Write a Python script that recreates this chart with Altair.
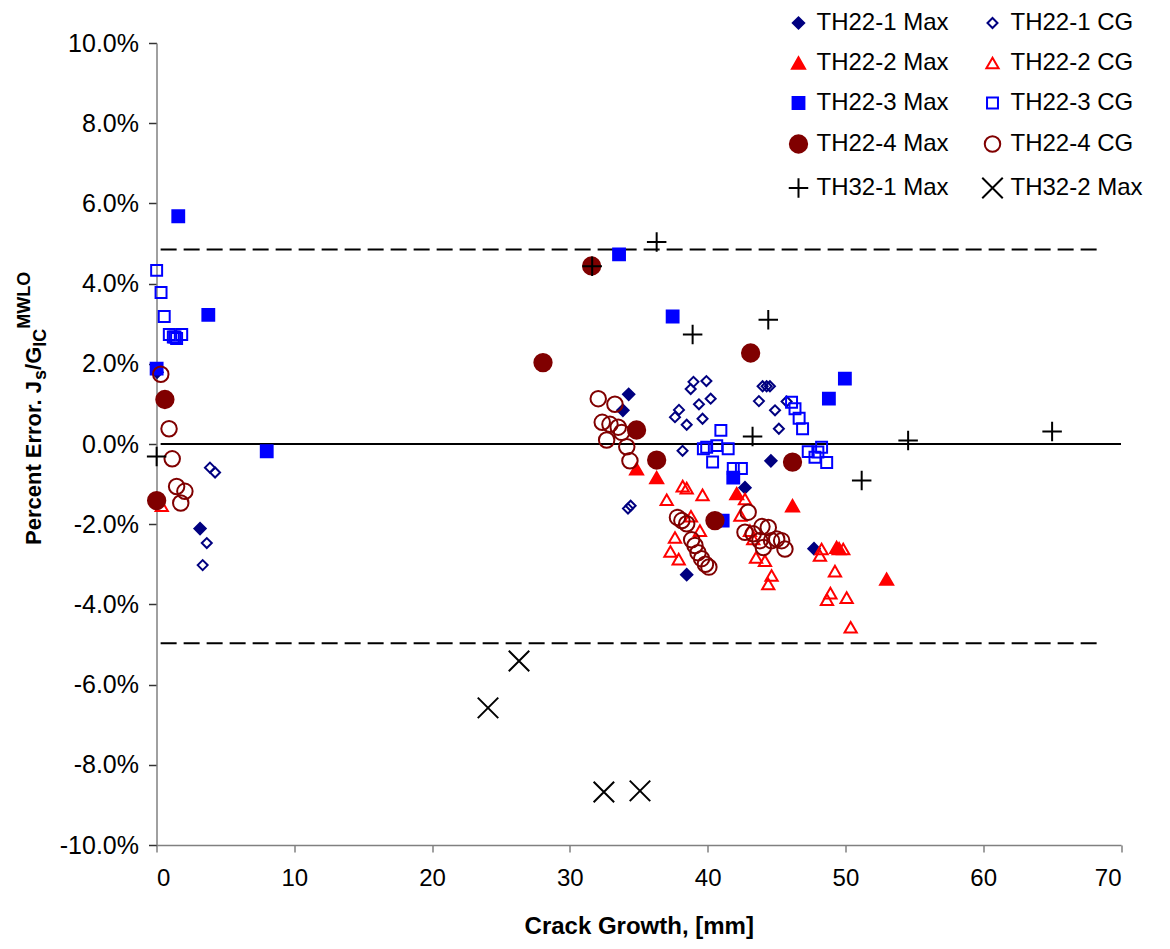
import altair as alt
import pandas as pd

# ---------------- data (crack growth mm, percent error %) ----------------
th221_max_x = [0.04, 3.16, 33.85, 34.27, 38.48, 42.71, 44.59, 47.72]
th221_max_y = [1.79, -2.11, 0.84, 1.24, -3.26, -1.09, -0.42, -2.61]

th221_cg_x = [3.88, 4.25, 3.65, 3.35, 34.22, 34.41, 37.63, 37.92, 38.18, 38.48, 38.77, 38.97,
              39.37, 39.63, 39.91, 40.22, 43.72, 43.99, 44.28, 44.52, 44.89, 45.17, 45.73]
th221_cg_y = [-0.59, -0.71, -2.47, -3.02, -1.61, -1.54, 0.67, 0.85, -0.17, 0.48, 1.37, 1.55,
              0.99, 0.63, 1.57, 1.13, 1.07, 1.44, 1.44, 1.44, 0.84, 0.38, 1.06]

th222_max_x = [34.84, 36.30, 42.11, 46.16, 49.36, 49.54, 52.99]
th222_max_y = [-0.62, -0.84, -1.24, -1.54, -2.58, -2.61, -3.37]

th222_cg_x = [0.38, 37.03, 37.30, 37.63, 37.90, 38.19, 38.48, 38.79, 39.44, 39.63, 42.38, 42.71,
              43.07, 43.31, 43.51, 44.16, 44.64, 44.40, 48.15, 48.27, 49.84, 49.24, 48.91, 48.66,
              50.09, 50.38]
th222_cg_y = [-1.54, -1.39, -2.68, -2.33, -2.87, -1.05, -1.10, -1.80, -2.16, -1.27, -1.78, -1.37,
              -2.16, -2.37, -2.83, -2.91, -3.28, -3.49, -2.78, -2.62, -2.62, -3.17, -3.72, -3.88,
              -3.83, -4.57]

th223_max_x = [0.01, 1.58, 3.76, 8.00, 33.57, 37.46, 41.09, 41.86, 48.80, 49.96]
th223_max_y = [1.88, 5.68, 3.22, -0.18, 4.73, 3.18, -1.91, -0.84, 1.13, 1.63]

th223_cg_x = [0.01, 0.33, 0.56, 0.93, 1.22, 1.46, 1.83, 1.34, 39.69, 39.93, 40.36, 40.66, 40.96,
              41.49, 41.86, 42.45, 46.09, 46.34, 46.64, 46.89, 47.30, 47.79, 48.27, 48.64, 48.00]
th223_cg_y = [4.33, 3.78, 3.18, 2.73, 2.67, 2.63, 2.73, 2.67, -0.12, -0.08, -0.45, -0.04, 0.34,
              -0.12, -0.61, -0.61, 1.04, 0.88, 0.64, 0.38, -0.19, -0.33, -0.08, -0.46, -0.20]

th224_max_x = [0.01, 0.61, 28.05, 31.58, 34.84, 36.30, 40.53, 43.12, 46.16]
th224_max_y = [-1.41, 1.11, 2.03, 4.44, 0.35, -0.40, -1.91, 2.27, -0.45]

th224_cg_x = [0.31, 0.91, 1.14, 1.46, 1.76, 2.06, 32.06, 32.35, 32.67, 32.91, 33.27, 33.51, 33.76,
              34.13, 34.36, 37.81, 38.13, 38.48, 38.84, 39.08, 39.30, 39.56, 39.84, 40.09, 42.94,
              42.71, 43.31, 43.79, 43.94, 44.04, 44.40, 44.64, 45.01, 45.37, 45.61]
th224_cg_y = [1.74, 0.38, -0.37, -1.06, -1.47, -1.18, 1.13, 0.54, 0.10, 0.49, 0.99, 0.42, 0.29,
              -0.07, -0.42, -1.83, -1.91, -1.99, -2.39, -2.53, -2.71, -2.86, -3.00, -3.07, -1.70,
              -2.20, -2.24, -2.41, -2.06, -2.58, -2.08, -2.41, -2.37, -2.41, -2.62]

th321_max_x = [0.01, 31.62, 36.30, 38.91, 43.26, 44.4, 51.18, 54.55, 65.0]
th321_max_y = [-0.31, 4.43, 5.04, 2.73, 0.19, 3.10, -0.91, 0.09, 0.31]

th322_max_x = [24.06, 26.31, 32.47, 35.09]
th322_max_y = [-6.58, -5.41, -8.68, -8.65]

zero_x = [0.3, 70.0]
upper_limit = 4.85
lower_limit = -4.97
limit_x = [0.3, 68.5]

# legend fills column by column: first column = "Max", second column = "CG"
series_order = ["TH22-1 Max", "TH22-2 Max", "TH22-3 Max", "TH22-4 Max", "TH32-1 Max",
                "TH22-1 CG", "TH22-2 CG", "TH22-3 CG", "TH22-4 CG", "TH32-2 Max"]
series_data = {
    "TH22-1 Max": (th221_max_x, th221_max_y), "TH22-1 CG": (th221_cg_x, th221_cg_y),
    "TH22-2 Max": (th222_max_x, th222_max_y), "TH22-2 CG": (th222_cg_x, th222_cg_y),
    "TH22-3 Max": (th223_max_x, th223_max_y), "TH22-3 CG": (th223_cg_x, th223_cg_y),
    "TH22-4 Max": (th224_max_x, th224_max_y), "TH22-4 CG": (th224_cg_x, th224_cg_y),
    "TH32-1 Max": (th321_max_x, th321_max_y), "TH32-2 Max": (th322_max_x, th322_max_y),
}
draw_order = ["TH22-1 Max", "TH22-1 CG", "TH22-2 Max", "TH22-2 CG", "TH22-3 Max",
              "TH22-3 CG", "TH22-4 Max", "TH22-4 CG", "TH32-1 Max", "TH32-2 Max"]

# ---------------- styles ----------------
PLUS = "M-1,0L1,0M0,-1L0,1"
CROSS = "M-1,-1L1,1M-1,1L1,-1"
style = {
    "TH22-1 Max": ("#000080", "#000080", "diamond", 130),
    "TH22-1 CG": ("#000080", "transparent", "diamond", 100),
    "TH22-2 Max": ("#FF0000", "#FF0000", "triangle-up", 170),
    "TH22-2 CG": ("#FF0000", "transparent", "triangle-up", 150),
    "TH22-3 Max": ("#0000FF", "#0000FF", "square", 140),
    "TH22-3 CG": ("#0000FF", "transparent", "square", 120),
    "TH22-4 Max": ("#800000", "#800000", "circle", 300),
    "TH22-4 CG": ("#800000", "transparent", "circle", 240),
    "TH32-1 Max": ("#000000", "transparent", PLUS, 380),
    "TH32-2 Max": ("#000000", "transparent", CROSS, 420),
}
stroke_colors = [style[s][0] for s in series_order]
fill_colors = [style[s][1] for s in series_order]
shapes = [style[s][2] for s in series_order]
sizes = [style[s][3] for s in series_order]

rows = []
for name in draw_order:
    xs, ys = series_data[name]
    for xv, yv in zip(xs, ys):
        rows.append({"series": name, "x": xv, "y": yv})
df = pd.DataFrame(rows)

FONT = "Liberation Sans"
X0 = 156.5   # plot left on page
Y0 = 43.0    # plot top on page
W = 964.5
H = 802

xscale = alt.Scale(domain=[0, 70], nice=False, zero=False)
yscale = alt.Scale(domain=[-10, 10], nice=False, zero=False)

legend = alt.Legend(
    title=None, orient="none", legendX=630, legendY=-32, columns=2,
    labelFont=FONT, labelFontSize=24, labelColor="black", labelOffset=6,
    rowPadding=16, columnPadding=28, symbolStrokeWidth=2, labelLimit=300,
)

points = alt.Chart(df).mark_point(filled=True, opacity=1, strokeWidth=2).encode(
    x=alt.X("x:Q", scale=xscale, axis=alt.Axis(
        values=list(range(0, 71, 10)), title="Crack Growth, [mm]", grid=False,
        labelFont=FONT, labelFontSize=24, labelColor="black", labelPadding=14,
        titleFont=FONT, titleFontSize=24, titleFontWeight="bold", titleColor="black",
        titlePadding=24, domainColor="#808080", tickColor="#808080", tickSize=7,
        domainWidth=1.5, tickWidth=1.5)),
    y=alt.Y("y:Q", scale=yscale, axis=alt.Axis(
        values=list(range(-10, 11, 2)), title=None, grid=False,
        labelExpr="(datum.value < 0 ? '-' : '') + format(abs(datum.value), '.1f') + '%'",
        labelFont=FONT, labelFontSize=25, labelColor="black", labelPadding=10,
        domainColor="#808080", tickColor="#333333", tickSize=8,
        domainWidth=1.5, tickWidth=1.5)),
    shape=alt.Shape("series:N", scale=alt.Scale(domain=series_order, range=shapes), legend=legend),
    fill=alt.Fill("series:N", scale=alt.Scale(domain=series_order, range=fill_colors), legend=legend),
    stroke=alt.Stroke("series:N", scale=alt.Scale(domain=series_order, range=stroke_colors), legend=legend),
    size=alt.Size("series:N", scale=alt.Scale(type="ordinal", domain=series_order, range=sizes), legend=legend),
)

zero_df = pd.DataFrame({"x": zero_x, "y": [0, 0]})
zero_line = alt.Chart(zero_df).mark_line(color="black", strokeWidth=2).encode(
    x=alt.X("x:Q", scale=xscale), y=alt.Y("y:Q", scale=yscale))

lim_df = pd.DataFrame({
    "x": limit_x + limit_x,
    "y": [upper_limit, upper_limit, lower_limit, lower_limit],
    "g": ["u", "u", "l", "l"],
})
lim_lines = alt.Chart(lim_df).mark_line(color="black", strokeWidth=2, strokeDash=[16, 7]).encode(
    x=alt.X("x:Q", scale=xscale), y=alt.Y("y:Q", scale=yscale), detail="g:N")

# y-axis title with subscripts / superscripts, built from rotated text pieces
BIG, SMALL = 22, 18
def piece(txt, px, py, size):
    return alt.Chart(pd.DataFrame({"t": [txt]})).mark_text(
        angle=270, align="left", baseline="alphabetic", font=FONT, fontSize=size,
        fontWeight="bold", color="black").encode(
        text="t:N", x=alt.value(px - X0), y=alt.value(py - Y0))

w1 = 7.503 * BIG
w2 = 0.556 * SMALL
w3 = 1.056 * BIG
w4 = 1.0 * SMALL
base_y = 545
bx = 41
t1 = piece("Percent Error. J", bx, base_y, BIG)
t2 = piece("s", bx + 5, base_y - w1, SMALL)
t3 = piece("/G", bx, base_y - w1 - w2, BIG)
t4 = piece("IC", bx + 5, base_y - w1 - w2 - w3, SMALL)
t5 = piece("MWLO", bx - 11, base_y - w1 - w2 - w3 - w4, SMALL)

chart = alt.layer(zero_line, lim_lines, points, t1, t2, t3, t4, t5).properties(
    width=W, height=H,
    autosize=alt.AutoSizeParams(type="none"),
    padding={"left": X0 - 8, "top": Y0 - 8, "right": 40, "bottom": 100},
    background="white",
).configure_view(stroke=None)

chart.save("out.html", embed_options={"renderer": "svg", "actions": False})
